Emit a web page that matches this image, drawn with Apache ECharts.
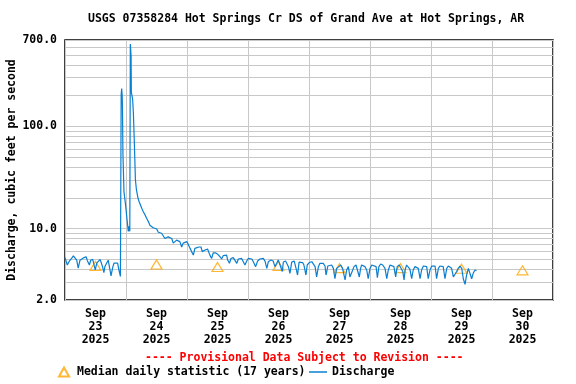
<!DOCTYPE html>
<html>
<head>
<meta charset="utf-8">
<script src="https://cdn.jsdelivr.net/npm/echarts@6/dist/echarts.min.js"></script>
<style>html,body{margin:0;padding:0;background:#fff;}#chart{width:576px;height:384px;}</style>
</head>
<body>
<div id="chart"></div>
<script>
var titleText = 'USGS 07358284 Hot Springs Cr DS of Grand Ave at Hot Springs, AR';
var provisionalText = '---- Provisional Data Subject to Revision ----';
var yAxisTitle = 'Discharge, cubic feet per second';
var dayLabels = ['Sep\n23\n2025','Sep\n24\n2025','Sep\n25\n2025','Sep\n26\n2025','Sep\n27\n2025','Sep\n28\n2025','Sep\n29\n2025','Sep\n30\n2025'];
var dayLabelHours = [12,36,60,84,108,132,156,180];
var yLabelValues = [2,10,100,700];
var yGridValues = [2,3,4,5,6,7,8,9,10,20,30,40,50,60,70,80,90,100,200,300,400,500,600,700];
// median daily statistic, at noon of each day (hours since Sep 23 00:00)
var medianHours = [12,36,60,84,108,132,156,180];
var medianCfs = [4.3,4.45,4.2,4.3,4.1,4.1,4.05,3.9];
// discharge readings: [hours since Sep 23 00:00, cfs]
var dischargeReadings = [
[0.0,5.2],[0.4,5.3],[0.9,4.4],[1.7,4.8],[2.6,5.1],[3.3,5.4],[3.9,5.2],[4.6,4.9],[5.2,4.1],[5.9,4.9],[6.6,5.1],[7.5,5.2],[8.3,5.3],[8.8,4.85],[9.6,4.4],[10.1,4.9],[10.9,5.0],[11.4,4.8],[11.9,3.95],[12.5,4.6],[13.1,4.8],[13.8,5.0],[14.3,4.6],[14.8,4.2],[15.3,3.7],[15.7,4.25],[16.4,4.6],[17.0,4.9],[17.7,3.95],[18.1,3.45],[18.8,4.2],[19.3,4.6],[19.9,4.8],[20.7,4.6],[21.2,3.95],[21.8,3.4],[22.0,3.4],
[22.1,205],[22.3,235],[22.5,200],[22.6,156],[22.8,53],[23.2,23],[23.6,19],[24.0,15.5],[24.4,12.3],[24.9,9.4],[25.2,10.5],[25.5,9.4],[25.7,640],[26.0,490],[26.1,215],[26.6,185],[26.9,136],[27.3,67],[27.7,30],[28.1,24],[28.7,20.0],[29.1,18.5],[29.5,17.7],[30.2,15.8],[30.8,14.6],[31.5,13.6],[32.1,12.6],[32.8,11.7],[33.4,10.8],[34.1,10.4],[34.7,10.2],[35.4,10.4],[36.1,9.9],[36.7,9.2],[37.4,9.0],[38.0,9.0],[38.7,8.65],[39.3,8.0],[40.0,7.7],[40.6,8.3],[41.3,8.1],[42.0,8.0],[42.6,7.2],[43.3,7.45],[43.9,7.7],[44.6,8.0],[45.2,7.45],[45.9,6.6],[46.5,7.2],[47.2,7.35],[47.9,7.45],[48.5,7.0],[49.2,6.4],[49.8,5.95],[50.5,5.5],[51.1,6.4],[51.8,6.5],[52.7,6.6],[53.5,6.6],[54.0,5.95],[55.1,6.17],[56.1,6.3],[57.0,5.5],[57.7,5.1],[58.3,5.77],[59.3,5.77],[60.1,5.6],[61.0,5.3],[61.6,5.04],[62.3,5.45],[62.9,5.6],[63.6,5.5],[64.0,4.92],[64.7,4.57],[65.3,5.1],[66.2,5.2],[66.9,5.04],[67.6,4.57],[68.2,5.04],[69.5,5.1],[70.2,4.92],[70.8,4.4],[71.5,4.81],[72.1,5.1],[73.5,5.04],[74.1,4.74],[75.0,4.24],[75.8,4.81],[76.7,5.04],[78.0,5.1],[78.7,4.81],[79.4,4.08],[80.0,4.74],[81.0,4.92],[81.9,4.81],[82.6,4.24],[83.3,4.57],[83.9,4.92],[84.6,4.4],[85.5,3.8],[85.9,4.7],[86.8,4.81],[87.9,4.24],[88.5,3.65],[89.2,4.7],[90.2,4.81],[90.9,4.08],[91.5,3.51],[92.1,4.7],[92.8,4.74],
[93.5,4.65],[94.0,4.4],[94.8,3.51],[95.3,4.4],[96.1,4.65],[97.1,4.74],[97.7,4.57],[98.4,4.24],[99.0,3.36],[99.7,4.24],[100.3,4.57],[101.0,4.74],[101.6,4.57],[102.3,4.3],[102.7,3.51],[103.4,4.3],[104.0,4.4],[104.9,4.4],[105.6,4.08],[106.2,3.23],[106.9,4.08],[107.5,4.24],[108.5,4.4],[109.2,4.08],[110.2,3.14],[110.8,3.93],[111.5,4.24],[112.1,3.36],[112.8,3.23],[113.2,3.93],[113.7,4.24],[114.5,4.4],[115.0,4.3],[115.8,3.36],[116.3,4.08],[116.7,4.4],[117.4,4.5],[118.0,4.24],[118.7,3.93],[119.3,3.23],[120.0,4.08],[120.7,4.4],[121.3,4.4],[122.4,4.24],[122.9,3.3],[123.5,4.24],[124.2,4.5],[125.0,4.4],[125.9,4.08],[126.6,3.23],[127.2,3.93],[127.9,4.4],[128.5,4.5],[129.4,4.24],[130.1,3.36],[130.7,4.24],[131.5,4.4],
[132.9,3.8],[133.4,3.14],[133.8,3.93],[134.4,4.4],[135.1,4.3],[135.7,4.0],[136.4,3.23],[137.0,3.93],[137.7,4.24],[138.4,4.24],[139.0,4.08],[139.7,3.23],[140.3,3.93],[141.0,4.3],[141.6,4.4],[142.3,4.24],[142.9,3.23],[143.6,3.93],[144.3,4.3],[144.9,4.4],[145.6,4.3],[146.2,3.23],[146.9,4.08],[147.5,4.3],[148.2,4.4],[148.8,4.24],[149.5,3.23],[150.2,4.08],[150.8,4.3],[151.5,4.3],[152.1,4.08],[152.8,3.36],[153.4,3.23],[154.1,3.8],[154.7,4.08],[155.4,4.3],[156.1,4.08],[156.7,3.23],[157.4,2.85],[158.0,3.51],[158.7,4.08],[159.3,3.93],[160.0,3.23],[160.6,3.65],[161.3,3.93],[161.9,3.87]
];

var FONT = 'DejaVu Sans Mono';
var baseText = {fontFamily: FONT, fontWeight: 'bold', fontSize: 11.5, color: '#000'};
var medianData = medianHours.map(function (h, i) { return [h, medianCfs[i]]; });

var chart = echarts.init(document.getElementById('chart'), null, {renderer: 'canvas'});
chart.setOption({
  animation: false,
  backgroundColor: '#fff',
  title: [
    {text: titleText, left: 88, top: 13, padding: 0, textStyle: baseText},
    {text: provisionalText, left: 145, top: 352, padding: 0, textStyle: Object.assign({}, baseText, {color: '#ff0000'})}
  ],
  grid: {left: 65, right: 23, top: 40, bottom: 84, show: true, borderColor: '#000', borderWidth: 1.5,
         backgroundColor: 'transparent', containLabel: false, outerBoundsMode: 'none'},
  legend: [
    {data: ['Median daily statistic (17 years)'], left: 58, top: 366, padding: 0, itemWidth: 10, itemHeight: 9,
     textStyle: Object.assign({}, baseText, {padding: [0,0,0,3]})},
    {data: ['Discharge'], left: 309, top: 366, padding: 0, itemWidth: 18, itemHeight: 1.5, icon: 'rect',
     textStyle: baseText}
  ],
  xAxis: {
    type: 'value', min: 0, max: 192, interval: 24,
    axisLine: {show: false}, axisTick: {show: false},
    splitLine: {show: true, lineStyle: {color: '#c8c8c8', width: 1}},
    axisLabel: Object.assign({}, baseText, {customValues: dayLabelHours, lineHeight: 13, margin: 8,
      formatter: function (v) { return dayLabels[dayLabelHours.indexOf(Math.round(v))] || ''; }})
  },
  yAxis: {
    type: 'log', logBase: 10, min: 2, max: 700,
    axisLine: {show: false}, axisTick: {show: false, customValues: yGridValues},
    splitLine: {show: true, lineStyle: {color: '#c8c8c8', width: 1}},
    axisLabel: Object.assign({}, baseText, {customValues: yLabelValues, margin: 8,
      formatter: function (v) { return Number(v).toFixed(1); }}),
    name: yAxisTitle, nameLocation: 'middle', nameGap: 47, nameRotate: 90, nameMoveOverlap: false,
    nameTextStyle: baseText
  },
  series: [
    {
      name: 'Median daily statistic (17 years)', type: 'scatter', data: medianData,
      symbol: 'triangle', symbolSize: [11, 9], z: 3,
      itemStyle: {color: 'rgba(0,0,0,0)', borderColor: '#ffa500', borderWidth: 1.2}
    },
    {
      name: 'Discharge', type: 'line', data: dischargeReadings, symbol: 'none', showSymbol: false, z: 4,
      lineStyle: {color: '#0a7fd0', width: 1.2}, itemStyle: {color: '#0a7fd0'}
    }
  ]
});
</script>
</body>
</html>
